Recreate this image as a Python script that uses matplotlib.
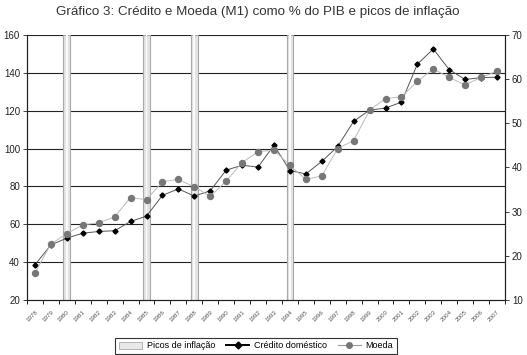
import numpy as np
import matplotlib
matplotlib.use("Agg")
import matplotlib.pyplot as plt
from matplotlib.lines import Line2D
from matplotlib.patches import Patch

plt.rcParams['font.family'] = ['Liberation Sans', 'DejaVu Sans']

years = list(range(1978, 2008))
credito = [38.6, 49.1, 52.7, 55.3, 56.2, 56.6, 61.5, 64.3, 75.3, 78.7,
           74.9, 77.7, 88.6, 91.2, 90.2, 101.8, 88.4, 86.6, 93.2, 101.1,
           114.4, 120.3, 121.4, 124.5, 144.6, 152.6, 141.7, 136.5, 137.5, 137.7]
# moeda no eixo da direita
moeda = [16.1, 22.7, 25.0, 27.0, 27.5, 28.8, 33.2, 32.7, 36.8, 37.3,
         35.6, 33.5, 36.9, 41.1, 43.6, 43.9, 40.5, 37.3, 38.1, 44.3,
         46.1, 53.0, 55.6, 56.0, 59.5, 62.3, 60.4, 58.7, 60.4, 61.8]
picos = [1980, 1985, 1988, 1994]

x = np.arange(len(years))
xp = [years.index(y) for y in picos]

fig = plt.figure(figsize=(5.27, 3.55), dpi=100)
ax = fig.add_axes([27/527, 1-300/355, 478/527, 265/355])
ax2 = ax.twinx()

ax.set_ylim(20, 160)
ax.set_yticks(range(20, 161, 20))
ax2.set_ylim(10, 70)
ax2.set_yticks(range(10, 71, 10))
ax.set_xlim(-0.5, len(years) - 0.5)

# grelha
for v in range(40, 161, 20):
    ax.axhline(v, color='#222222', lw=0.8, zorder=1)

# picos de inflação
ax.bar(xp, [140]*len(xp), bottom=20, width=0.42, color='#e4e4e4',
       edgecolor='#a8a8a8', linewidth=0.8, zorder=2)
ax.bar(xp, [140]*len(xp), bottom=20, width=0.12, color='#fafafa',
       linewidth=0, zorder=2)

ax.plot(x, credito, color='#555555', lw=0.7, marker='D', ms=2.6,
        mfc='black', mec='black', zorder=5)
ax2.plot(x, moeda, color='#bbbbbb', lw=0.7, marker='o', ms=4.3,
         mfc='#777777', mec='#777777', zorder=4)

ax.set_xticks(x)
ax.set_xticklabels([str(y) for y in years], rotation=45, ha='right',
                   rotation_mode='anchor', fontsize=4.5, color='#555555')
ax.set_xticks(np.arange(-0.5, len(years), 1), minor=True)
ax.tick_params(axis='x', which='major', length=0, pad=7)
ax.tick_params(axis='x', which='minor', length=3, width=0.6)
ax.tick_params(axis='y', length=3, width=0.6, labelsize=7, colors='#222222', pad=2)
ax2.tick_params(axis='y', length=3, width=0.6, labelsize=7, colors='#222222', pad=2)

for a in (ax, ax2):
    a.spines['top'].set_visible(False)
    for s in ('left', 'right', 'bottom'):
        a.spines[s].set_linewidth(0.8)
        a.spines[s].set_color('#222222')

fig.text(258/527, 0.965, 'Gráfico 3: Crédito e Moeda (M1) como % do PIB e picos de inflação',
         ha='center', va='center', fontsize=9.6, color='#333333')

handles = [Patch(facecolor='#e8e8e8', edgecolor='#a8a8a8', linewidth=0.6),
           Line2D([], [], color='black', lw=1.4, marker='D', ms=3.5),
           Line2D([], [], color='#999999', lw=0.8, marker='o', ms=4,
                  mfc='#777777', mec='#777777')]
labels = ['Picos de inflação', 'Crédito doméstico', 'Moeda']
leg = fig.legend(handles, labels, ncol=3, loc='center',
                 bbox_to_anchor=(256/527, 1-346/355), fontsize=6.5,
                 frameon=True, fancybox=False, edgecolor='black',
                 handlelength=2.6, handleheight=0.8, columnspacing=1.2,
                 borderpad=0.4, handletextpad=0.5)
leg.get_frame().set_linewidth(0.8)

fig.savefig('out.png', dpi=100)
